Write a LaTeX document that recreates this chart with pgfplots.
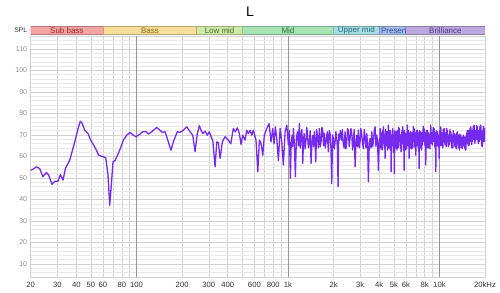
\documentclass[border=0pt]{standalone}
\usepackage{pgfplots}
\pgfplotsset{compat=1.18}
\usepackage{fontspec}
\setmainfont{Liberation Sans}
\definecolor{curve}{RGB}{118,42,238}
\definecolor{majgrid}{RGB}{210,210,210}
\definecolor{mingrid}{RGB}{232,232,232}
\definecolor{decgrid}{RGB}{150,150,150}
\definecolor{ylab}{RGB}{140,140,140}
\definecolor{xlab}{RGB}{50,50,50}
\definecolor{sbF}{RGB}{245,163,163}\definecolor{sbT}{RGB}{160,40,40}
\definecolor{bF}{RGB}{248,222,152}\definecolor{bT}{RGB}{130,100,30}
\definecolor{lmF}{RGB}{208,234,165}\definecolor{lmT}{RGB}{70,105,40}
\definecolor{mF}{RGB}{166,228,180}\definecolor{mT}{RGB}{40,110,60}
\definecolor{umF}{RGB}{164,222,226}\definecolor{umT}{RGB}{40,100,125}
\definecolor{prF}{RGB}{168,190,235}\definecolor{prT}{RGB}{45,75,160}
\definecolor{brF}{RGB}{188,168,222}\definecolor{brT}{RGB}{85,55,135}
\pgfplotstableread{
f v
20 53.6
20.8 54.2
21.8 55.2
22.9 54.4
24.1 50.6
25.4 52.6
26.3 51.3
27.7 47.0
28.8 48.5
30.3 48.5
31.4 51.6
32.7 49.0
33.9 54.4
36.2 58.3
39.1 66.8
41.1 73.0
42.5 76.4
43.8 75.3
45.5 72.2
47.8 70.7
49.8 67.6
52.9 64.5
56.3 60.6
60.1 59.9
62.6 59.4
64.8 51.3
66.5 37.3
68.1 46.7
69.9 57.5
72.4 58.3
77.4 62.9
81.8 67.6
86.1 69.9
90.6 71.2
95.2 69.9
99.2 69.2
104.3 70.2
109.9 71.5
115.5 71.5
119.6 70.4
126 71.5
135.9 73.5
142.9 72.2
148 71.2
154.2 71.5
162.1 66.8
168.9 62.9
174.9 66.8
185.9 71.5
193.7 71.2
203.6 72.2
214.4 73.8
225.6 71.5
235 69.9
243.4 62.2
252 70.7
259.8 74.3
266.6 72.2
273.6 70.7
283.4 71.8
293.4 69.9
302.4 71.5
313.8 68.4
318.6 67.6
330 55.2
338.6 66.8
346.8 66.5
356 59.1
368.6 66.8
384 69.2
404 67.6
418.8 65.9
435.8 73.0
449.2 71.5
463 73.3
477.4 70.7
489.8 65.6
502.6 69.9
520.6 67.6
534 72.2
547 70.7
561.8 72.2
576 69.9
590.6 72.2
615 67.6
632 52.9
647 67.6
664 66.0
682 60.6
698 69.9
724 73.0
750 75.3
773 66.8
793 73.0
809 65.9
825 73.8
843 68.4
864 58.1
887 73.0
910 66.8
932 56.0
957 71.5
982 74.6
1006 65.3
1021 72.0
1037 49.8
1050 66.0
1064 69.9
1075 64.5
1085 73.0
1102 66.0
1119 50.6
1136 68.0
1154 71.5
1171 65.0
1189 75.3
1204 64.0
1220 69.9
1236 72.5
1252 56.7
1264 66.0
1277 70.7
1296 63.5
1316 67.6
1330 73.5
1343 71.5
1363 64.0
1384 66.8
1402 72.0
1420 56.7
1438 66.0
1457 69.9
1475 64.5
1493 71.5
1510 67.0
1526 57.5
1545 72.5
1563 69.9
1588 64.0
1612 73.0
1633 64.5
1654 66.8
1675 73.5
1697 72.2
1718 65.0
1739 70.7
1762 64.0
1785 66.8
1816 71.5
1848 62.2
1872 72.0
1897 70.7
1921 64.0
1946 47.4
1970 70.0
1994 68.4
2020 63.5
2046 66.8
2072 71.5
2099 68.4
2120 64.0
2142 45.9
2163 70.5
2184 67.6
2218 72.0
2252 67.6
2286 72.5
2320 65.3
2351 64.0
2382 71.5
2413 63.5
2444 66.8
2474 73.0
2504 72.2
2537 64.5
2570 68.4
2604 73.0
2638 70.7
2670 63.0
2703 67.6
2738 72.5
2774 55.2
2810 66.0
2846 69.9
2881 64.5
2916 72.2
2954 64.0
2992 66.8
3031 73.0
3070 69.9
3108 66.0
3146 63.7
3188 72.5
3230 69.2
3272 64.0
3314 70.7
3355 65.0
3396 48.2
3441 66.0
3486 68.4
3531 64.0
3576 71.5
3620 64.5
3664 66.8
3712 72.0
3760 73.8
3810 64.5
3860 69.9
3907 66.5
3954 53.6
4006 68.0
4032 64.0
4058 73.0
4085 67.0
4111 63.5
4138 71.0
4164 66.8
4190 63.0
4215 72.0
4240 66.0
4266 73.8
4294 69.0
4322 64.0
4350 70.0
4378 59.1
4406 72.5
4435 68.0
4463 65.0
4492 71.5
4520 67.0
4547 63.0
4575 70.0
4602 74.6
4632 67.0
4663 64.0
4693 72.0
4724 67.6
4742 63.0
4760 72.0
4778 68.0
4796 52.9
4827 66.0
4858 70.0
4889 65.0
4920 73.0
4950 68.0
4981 62.0
5011 70.0
5042 52.1
5075 72.0
5108 67.0
5141 64.0
5174 71.5
5208 67.0
5242 63.0
5276 72.0
5310 66.8
5342 64.0
5375 73.5
5408 67.0
5440 73.0
5476 68.0
5512 64.0
5548 70.0
5584 62.2
5620 68.0
5657 72.0
5693 66.0
5730 73.8
5759 68.0
5788 63.0
5817 70.0
5846 53.6
5884 72.0
5922 66.0
5960 63.0
5998 70.7
6035 67.0
6072 63.5
6109 70.0
6146 74.6
6186 68.0
6226 65.0
6266 72.0
6306 59.1
6348 71.0
6389 67.0
6430 64.0
6472 71.5
6512 68.0
6552 63.5
6592 71.0
6632 66.8
6675 64.0
6718 74.0
6761 67.0
6804 73.0
6848 68.0
6893 64.0
6938 71.0
6982 60.6
7025 72.0
7068 68.5
7111 65.0
7154 72.2
7201 68.0
7248 64.0
7295 71.0
7342 54.4
7390 72.0
7437 67.0
7485 64.0
7532 71.5
7578 67.0
7625 63.0
7672 71.0
7718 65.3
7769 68.0
7819 74.0
7870 67.0
7920 73.0
7972 69.0
8024 65.0
8076 71.0
8128 56.0
8178 72.0
8228 68.0
8278 64.0
8328 72.2
8382 68.0
8437 64.0
8492 71.0
8546 68.4
8602 66.0
8658 63.5
8714 70.0
8770 74.6
8824 68.0
8878 66.0
8932 71.0
8986 65.3
9045 69.0
9104 73.5
9163 67.0
9222 73.0
9282 69.0
9343 64.0
9404 71.0
9464 52.9
9522 72.0
9581 68.0
9640 65.0
9698 71.5
9762 68.0
9825 64.5
9888 70.0
9952 59.1
10017 72.0
10082 68.0
10147 65.0
10212 73.8
10275 69.0
10338 65.0
10401 71.0
10464 66.8
10533 64.0
10602 72.5
10671 67.0
10740 73.0
10810 69.0
10880 65.5
10950 71.0
11020 67.6
11088 64.5
11156 73.0
11224 67.0
11292 72.2
11366 68.0
11440 64.5
11514 70.0
11588 65.3
11664 68.0
11740 72.5
11816 67.0
11892 71.5
11966 67.0
12039 64.0
12112 70.0
12186 66.8
12266 64.0
12345 72.0
12425 67.0
12504 70.7
12586 67.0
12668 64.5
12750 70.0
12832 65.9
12911 63.5
12990 71.0
13069 66.0
13148 71.5
13234 67.0
13320 64.0
13406 70.0
13492 65.3
13580 63.0
13669 70.5
13758 66.0
13846 69.9
13931 66.0
14016 64.0
14101 69.0
14186 63.7
14279 66.0
14371 70.0
14464 65.0
14556 69.2
14652 66.0
14747 63.5
14843 69.0
14938 62.9
15030 68.0
15122 71.0
15214 66.0
15306 72.2
15406 68.0
15506 65.0
15606 72.0
15706 65.3
15809 69.0
15912 73.0
16015 67.0
16118 73.8
16217 69.0
16316 65.5
16415 72.0
16514 66.8
16622 70.0
16730 74.0
16838 68.0
16946 74.6
17057 69.0
17168 66.0
17279 72.0
17390 67.6
17498 70.0
17605 74.5
17712 68.0
17820 73.8
17936 69.0
18052 66.0
18168 72.0
18284 66.8
18404 70.0
18524 74.0
18644 68.0
18764 74.6
18879 69.0
18994 65.0
19109 72.0
19224 64.5
19372 69.0
19521 74.0
19670 67.0
19818 73.0
19909 69.0
20000 66.8
}\datatable
\begin{document}
\begin{tikzpicture}
\useasboundingbox (-30.7bp,-16bp) rectangle (469.3bp,277bp);
\begin{axis}[
  at={(0,0)}, anchor=south west, scale only axis,
  width=454.3bp, height=241bp,
  xmode=log, xmin=20, xmax=20000, ymin=4, ymax=116,
  xtick={20,30,40,50,60,70,80,90,100,200,300,400,500,600,700,800,900,1000,2000,3000,4000,5000,6000,7000,8000,9000,10000,20000},
  xticklabels={20,30,40,50,60,{},80,{},100,200,300,400,{},600,{},800,{},1k,2k,3k,4k,5k,6k,{},8k,{},10k,20kHz},
  ytick={10,20,...,110},
  minor ytick={4,6,...,116},
  extra x ticks={100,1000,10000},
  extra x tick labels={},
  extra x tick style={grid=major, major grid style={draw=decgrid, line width=0.7bp}},
  major tick length=0pt, minor tick length=0pt,
  grid=both,
  major grid style={draw=majgrid, line width=0.6bp},
  minor grid style={draw=mingrid, line width=0.6bp},
  axis line style={draw=majgrid, line width=0.6bp},
  /pgf/number format/assume math mode=true,
  yticklabel style={font=\fontsize{7}{8}\selectfont, text=ylab, anchor=east, inner sep=0pt, xshift=-3.4bp},
  xticklabel style={font=\fontsize{7.7}{9}\selectfont, text=xlab, anchor=base, inner sep=0pt, yshift=-10.8bp},
  log ticks with fixed point,
]
\addplot[draw=curve, line width=1.3bp, line join=round, mark=none] table[x=f, y=v] {\datatable};
\end{axis}
\def\ya{242.3bp}\def\yb{251bp}
\begin{scope}
\clip (0bp,\ya) rectangle (72.25bp,\yb); \fill[sbF] (0bp,\ya) rectangle (72.25bp,\yb);
\draw[sbF!75!black, line width=0.7bp] (0bp,\ya) rectangle (72.25bp,\yb);
\node[text=sbT, font=\fontsize{8}{9}\selectfont, inner sep=0pt] at (36.1bp,246.65bp) {Sub bass};
\end{scope}
\begin{scope}
\clip (72.25bp,\ya) rectangle (166.1bp,\yb); \fill[bF] (72.25bp,\ya) rectangle (166.1bp,\yb);
\draw[bF!75!black, line width=0.7bp] (72.25bp,\ya) rectangle (166.1bp,\yb);
\node[text=bT, font=\fontsize{8}{9}\selectfont, inner sep=0pt] at (119.2bp,246.65bp) {Bass};
\end{scope}
\begin{scope}
\clip (166.1bp,\ya) rectangle (211.7bp,\yb); \fill[lmF] (166.1bp,\ya) rectangle (211.7bp,\yb);
\draw[lmF!75!black, line width=0.7bp] (166.1bp,\ya) rectangle (211.7bp,\yb);
\node[text=lmT, font=\fontsize{8}{9}\selectfont, inner sep=0pt] at (188.9bp,246.65bp) {Low mid};
\end{scope}
\begin{scope}
\clip (211.7bp,\ya) rectangle (302.9bp,\yb); \fill[mF] (211.7bp,\ya) rectangle (302.9bp,\yb);
\draw[mF!75!black, line width=0.7bp] (211.7bp,\ya) rectangle (302.9bp,\yb);
\node[text=mT, font=\fontsize{8}{9}\selectfont, inner sep=0pt] at (257.3bp,246.65bp) {Mid};
\end{scope}
\begin{scope}
\clip (302.9bp,\ya) rectangle (348.4bp,\yb); \fill[umF] (302.9bp,\ya) rectangle (348.4bp,\yb);
\draw[umF!75!black, line width=0.7bp] (302.9bp,\ya) rectangle (348.4bp,\yb);
\node[text=umT, font=\fontsize{8}{9}\selectfont, inner sep=0pt] at (325.65bp,246.65bp) {Upper mid};
\end{scope}
\begin{scope}
\clip (348.4bp,\ya) rectangle (375.1bp,\yb); \fill[prF] (348.4bp,\ya) rectangle (375.1bp,\yb);
\draw[prF!75!black, line width=0.7bp] (348.4bp,\ya) rectangle (375.1bp,\yb);
\node[text=prT, font=\fontsize{8}{9}\selectfont, inner sep=0pt, anchor=west] at (350.2bp,246.65bp) {Presence};
\end{scope}
\begin{scope}
\clip (375.1bp,\ya) rectangle (454.3bp,\yb); \fill[brF] (375.1bp,\ya) rectangle (454.3bp,\yb);
\draw[brF!75!black, line width=0.7bp] (375.1bp,\ya) rectangle (454.3bp,\yb);
\node[text=brT, font=\fontsize{8}{9}\selectfont, inner sep=0pt] at (414.7bp,246.65bp) {Brilliance};
\end{scope}
\node[anchor=east, inner sep=0pt, text=xlab, font=\fontsize{6.8}{8}\selectfont] at (-3.4bp,246.65bp) {SPL};
\node[inner sep=0pt, font=\fontsize{14}{16}\selectfont] at (219.3bp,265bp) {L};
\end{tikzpicture}
\end{document}
